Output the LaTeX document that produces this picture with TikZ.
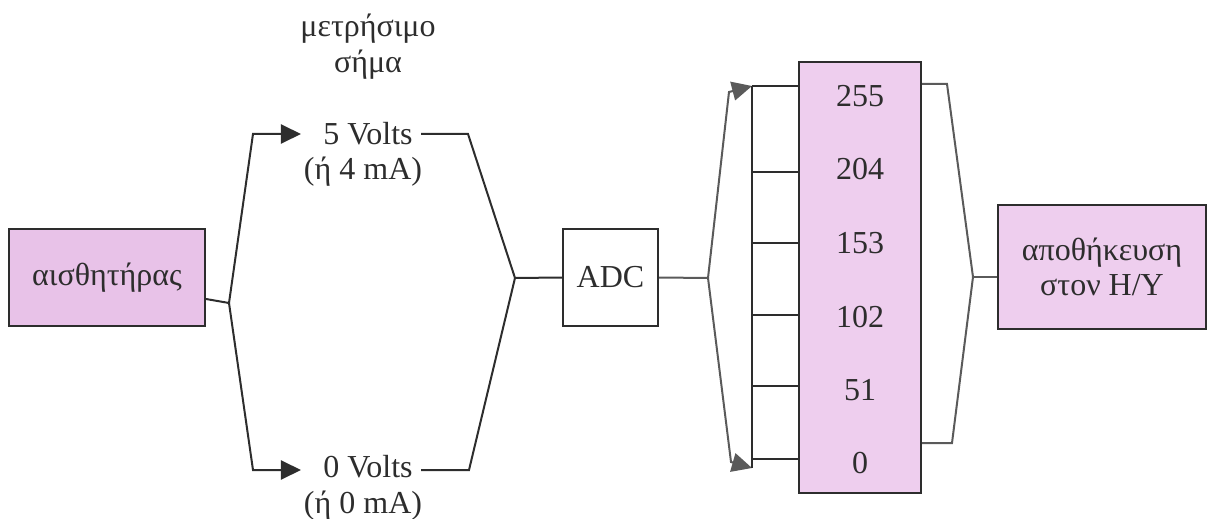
\documentclass[tikz,border=0pt]{standalone}
\usepackage{fontspec}
\setmainfont{Liberation Serif}
\usetikzlibrary{arrows.meta,calc}
\definecolor{pinkA}{RGB}{232,194,232}
\definecolor{pinkB}{RGB}{238,206,238}
\definecolor{ink}{RGB}{45,45,45}
\definecolor{inkl}{RGB}{90,90,90}
\begin{document}
\begin{tikzpicture}[x=0.5pt,y=-0.5pt,
  txt/.style={font=\fontsize{16}{18}\selectfont, text=ink, inner sep=0pt},
  box/.style={draw=ink, line width=1pt, inner sep=0pt, font=\fontsize{16}{17.5}\selectfont, text=ink, align=center},
  conn/.style={draw=ink, line width=1pt},
  connl/.style={draw=inkl, line width=1pt},
  tip/.style={-{Triangle[length=10pt,width=9.5pt]}}]
\useasboundingbox (0,0) rectangle (1210,519);
% boxes
\node[box, fill=pinkA, minimum width=98pt, minimum height=48.5pt] (sensor) at (107,277.5) {αισθητήρας};
\node[box, fill=white, minimum width=47.5pt, minimum height=48.5pt] (adc) at (610.5,277.5) {ADC};
\node[box, fill=pinkB, minimum width=61pt, minimum height=215.5pt] (levels) at (860,277.5) {};
\node[box, fill=pinkB, minimum width=104pt, minimum height=62pt] (store) at (1102,267) {αποθήκευση\\στον H/Y};
% level numbers
\node[txt] (n255) at (860,96) {255};
\node[txt] (n204) at (860,169) {204};
\node[txt] (n153) at (860,243) {153};
\node[txt] (n102) at (860,317) {102};
\node[txt] (n51) at (860,390) {51};
\node[txt] (n0) at (860,463) {0};
% labels
\node[txt, align=center] (title) at (368,47) {μετρήσιμο\\σήμα};
\node[txt] (v5) at (368,134) {5 Volts};
\node[txt] (ma4) at (363,172) {(ή 4 mA)};
\node[txt] (v0) at (368,467) {0 Volts};
\node[txt] (ma0) at (363,506) {(ή 0 mA)};
% coordinates
\coordinate (f1) at (229,303);
\coordinate (u1) at (253,134);
\coordinate (d1) at (253,470);
\coordinate (u2) at (468,134);
\coordinate (d2) at (469,470);
\coordinate (m1) at (515,278);
\coordinate (f2) at (708,278);
\coordinate (ua) at (729,92);
\coordinate (da) at (731,462);
\coordinate (bt) at (752,86);
\coordinate (bb) at (752,468);
\coordinate (t1) at (752,86);
\coordinate (t2) at (752,172);
\coordinate (t3) at (752,243);
\coordinate (t4) at (752,315);
\coordinate (t5) at (752,386);
\coordinate (t6) at (752,459);
\coordinate (r1) at (947,84);
\coordinate (r2) at (952,443);
\coordinate (m3) at (973,277);
% left connectors
\draw[conn] ([yshift=-10.75pt]sensor.east) -- (f1);
\draw[conn,tip] (f1) -- (u1) -- ([xshift=-11pt]v5.west);
\draw[conn,tip] (f1) -- (d1) -- ([xshift=-11pt,yshift=-1.5pt]v0.west);
\draw[conn] ([xshift=4pt]v5.east) -- (u2) -- (m1);
\draw[conn] ([xshift=4pt,yshift=-1.5pt]v0.east) -- (d2) -- (m1);
\draw[conn] (m1) -- (adc.west);
% right connectors
\draw[connl] (adc.east) -- (f2);
\draw[connl,tip] (f2) -- (ua) -- (bt);
\draw[connl,tip] (f2) -- (da) -- (bb);
\draw[conn] (bt) -- (bb);
\foreach \i in {1,...,6}{
  \draw[conn] (t\i) -- (t\i -| levels.west);
}
\draw[connl] (levels.east |- r1) -- (r1) -- (m3) -- (r2) -- (levels.east |- r2);
\draw[connl] (m3) -- (m3 -| store.west);
\end{tikzpicture}
\end{document}
